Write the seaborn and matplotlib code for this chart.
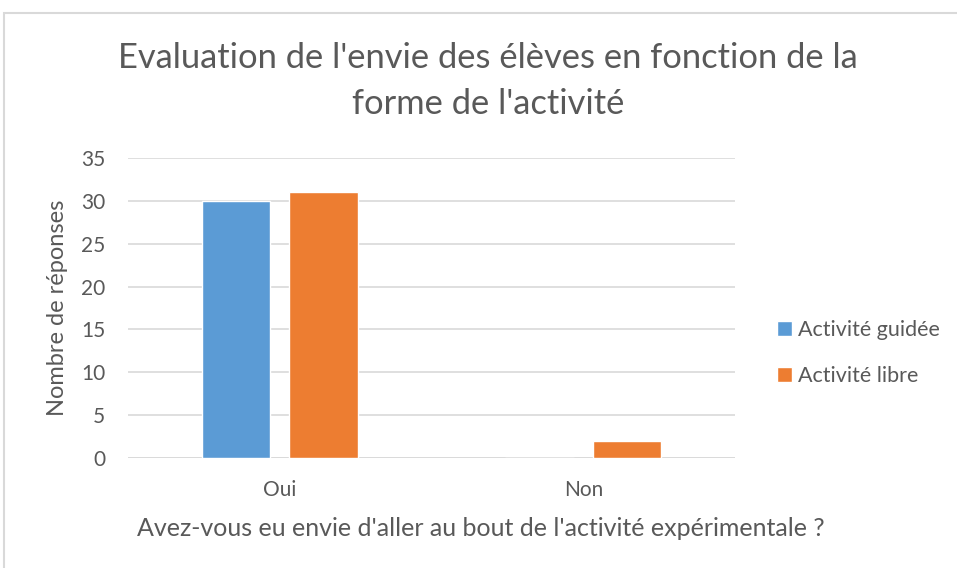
import matplotlib
matplotlib.use("Agg")
import matplotlib.pyplot as plt
import seaborn as sns
import pandas as pd
from matplotlib.patches import Rectangle

categories = ["Oui", "Non"]
series_names = ["Activité guidée", "Activité libre"]
guidee = [30, 0]
libre = [31, 2]
yticks = [0, 5, 10, 15, 20, 25, 30, 35]

df = pd.DataFrame({
    "cat": categories * 2,
    "serie": [series_names[0]] * 2 + [series_names[1]] * 2,
    "val": guidee + libre,
})

sns.set_style("white")
plt.rcParams["font.family"] = ["Lato", "DejaVu Sans"]
txt = "#595959"

fig = plt.figure(figsize=(9.57, 5.68), dpi=100)
ax = fig.add_axes([128/957, 1-458/568, (735-128)/957, 300/568])

sns.barplot(data=df, x="cat", y="val", hue="serie", order=categories,
            hue_order=series_names, palette=["#5B9BD5", "#ED7D31"],
            width=0.577, gap=0.22, ax=ax, legend=True, saturation=1)

ax.set_ylim(0, 35)
ax.set_xlim(-0.5, 1.5)
ax.set_yticks(yticks)
ax.yaxis.grid(True, color="#d9d9d9", lw=1.2)
ax.set_axisbelow(True)
for s in ax.spines.values():
    s.set_visible(False)
ax.axhline(0, color="#d9d9d9", lw=1.2, zorder=0)
ax.tick_params(axis="both", length=0, labelsize=15, colors=txt)
ax.tick_params(axis="y", pad=16.5)
ax.tick_params(axis="x", pad=16)
ax.set_xlabel("Avez-vous eu envie d'aller au bout de l'activité expérimentale ?",
              fontsize=18, color=txt)
ax.xaxis.label.set_va("center")
ax.xaxis.set_label_coords((481-128)/607, (458-528)/300)
ax.set_ylabel("Nombre de réponses", fontsize=17, color=txt, labelpad=9)

leg = ax.legend(loc="upper left", bbox_to_anchor=(777/957, 1-320/568),
                bbox_transform=fig.transFigure, frameon=False,
                borderaxespad=0, borderpad=0,
                fontsize=15.5, handlelength=0.68, handleheight=0.68,
                handletextpad=0.3, labelspacing=1.2)
for t in leg.get_texts():
    t.set_color(txt)

fig.text(488/957, 1-58/568, "Evaluation de l'envie des élèves en fonction de la",
         ha="center", va="center", fontsize=24.8, color=txt)
fig.text(488/957, 1-104/568, "forme de l'activité",
         ha="center", va="center", fontsize=24.8, color=txt)

fig.patches.append(Rectangle((4/957, -0.01), 1.0, 1-13/568 + 0.01,
                             transform=fig.transFigure, fill=False,
                             edgecolor="#d9d9d9", lw=1.5))

fig.savefig("out.png", dpi=100)
